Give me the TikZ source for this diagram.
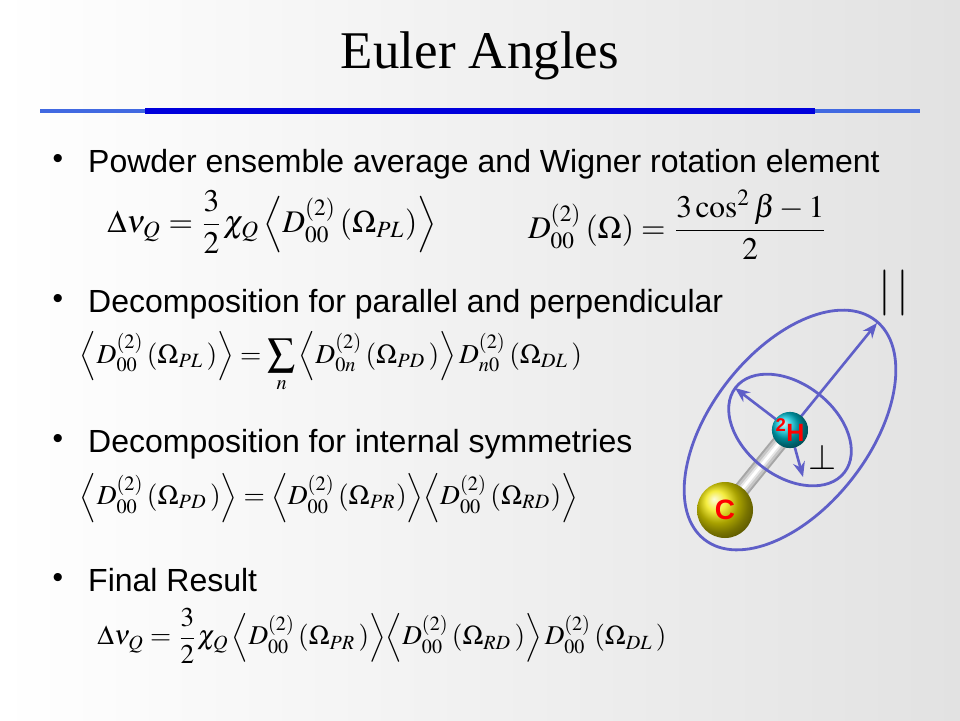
\documentclass[tikz,border=0pt]{standalone}
\usepackage{mathptmx}
\usepackage[no-math]{fontspec}
\setmainfont{Liberation Sans}
\newfontfamily\titlefont{Liberation Serif}
\usepackage{graphicx}
\usetikzlibrary{arrows.meta,shadings}
\definecolor{ellc}{RGB}{95,95,200}
\definecolor{lineblue}{RGB}{65,105,225}
\definecolor{darkblue}{RGB}{0,0,220}
\definecolor{bggray}{RGB}{226,226,226}
\definecolor{hcol}{RGB}{0,195,215}
\definecolor{ccol}{RGB}{240,230,0}
\tikzset{
  bullettext/.style={anchor=base west, inner sep=0pt, font=\fontsize{32}{38}\selectfont},
  bulletdot/.style={anchor=center, inner sep=0pt, font=\fontsize{30}{36}\selectfont},
  eqn/.style={inner sep=0pt, anchor=center},
  ell/.style={draw=ellc, line width=2.8pt},
  arr/.style={draw=ellc, line width=2.6pt, -{Stealth[length=15pt,width=12pt]}},
  atomlabel/.style={text=red, font=\bfseries\fontsize{25}{27}\selectfont},
}
\begin{document}
\begin{tikzpicture}[x=1pt,y=-1pt]
\useasboundingbox (0,0) rectangle (960,720);
\shade[left color=white, right color=bggray] (0,0) rectangle (960,720);

% title
\node[anchor=base, inner sep=0pt, font=\titlefont\fontsize{53}{60}\selectfont] (title) at (480,68) {Euler Angles};
\draw[lineblue, line width=4pt] (40,111) -- (920,111);
\draw[darkblue, line width=6pt] (145,111) -- (815,111);

% bullets
\node[bulletdot] (d1) at (58,161) {•};
\node[bullettext] (t1) at (88,172) {Powder ensemble average and Wigner rotation element};
\node[bulletdot] (d2) at (58,301) {•};
\node[bullettext] (t2) at (88,312) {Decomposition for parallel and perpendicular};
\node[bulletdot] (d3) at (58,441) {•};
\node[bullettext] (t3) at (88,452) {Decomposition for internal symmetries};
\node[bulletdot] (d4) at (58,580) {•};
\node[bullettext] (t4) at (88,591) {Final Result};

% equations
\node[eqn] (e1) at (272,222) {\resizebox{329pt}{!}{$\displaystyle \Delta\nu_{Q}=\frac{3}{2}\chi_{Q}\left\langle D^{(2)}_{00}\left(\Omega_{PL}\right)\right\rangle$}};
\node[eqn] (e2) at (678,225) {\resizebox{300pt}{!}{$\displaystyle D^{(2)}_{00}\left(\Omega\right)=\frac{3\cos^{2}\beta-1}{2}$}};
\node[eqn] (e3) at (331,362) {\resizebox{502pt}{!}{$\displaystyle \left\langle D^{(2)}_{00}\left(\Omega_{PL}\,\right)\right\rangle=\sum_{n}\left\langle D^{(2)}_{0n}\left(\Omega_{PD}\,\right)\right\rangle D^{(2)}_{n0}\left(\Omega_{DL}\,\right)$}};
\node[eqn] (e4) at (329,498) {\resizebox{498pt}{!}{$\displaystyle \left\langle D^{(2)}_{00}\left(\Omega_{PD}\,\right)\right\rangle=\left\langle D^{(2)}_{00}\left(\Omega_{PR}\right)\right\rangle\!\left\langle D^{(2)}_{00}\left(\Omega_{RD}\right)\right\rangle$}};
\node[eqn] (e5) at (382,636) {\resizebox{569pt}{!}{$\displaystyle \Delta\nu_{Q}=\frac{3}{2}\chi_{Q}\left\langle D^{(2)}_{00}\left(\Omega_{PR}\,\right)\right\rangle\!\left\langle D^{(2)}_{00}\left(\Omega_{RD}\,\right)\right\rangle D^{(2)}_{00}\left(\Omega_{DL}\,\right)$}};

% molecule
\coordinate (Hc) at (790,430);
\coordinate (Cc) at (725,510);
\coordinate (par) at (877,323);
\coordinate (perp) at (735,388);
\coordinate (down) at (803,477);
\draw[line width=16pt, gray!70] (Cc) -- (Hc);
\draw[line width=12pt, gray!45] (Cc) -- (Hc);
\draw[line width=7pt, gray!20] (Cc) -- (Hc);
\draw[line width=3pt, white] (Cc) -- (Hc);
\node[circle, minimum size=56pt, inner sep=0pt, shading=ball, ball color=ccol, atomlabel, font=\bfseries\fontsize{28}{30}\selectfont] (C) at (Cc) {C};
\draw[ell, rotate around={52:(Hc)}] (Hc) ellipse [x radius=139pt, y radius=79pt];
\draw[ell, rotate around={142:(Hc)}] (Hc) ellipse [x radius=69pt, y radius=46pt];
\draw[arr] (Hc) -- (par);
\draw[arr] (Hc) -- (perp);
\draw[arr] (Hc) -- (down);
\node[circle, minimum size=36pt, inner sep=0pt, shading=ball, ball color=hcol, atomlabel] (H) at (Hc) {\textsuperscript{2}H};
\node[inner sep=0pt, font=\fontsize{46}{50}\selectfont] (parlab) at (894,293) {$\vert\hspace{6pt}\vert$};
\node[inner sep=0pt, font=\fontsize{36}{40}\selectfont] (perplab) at (822,457) {$\perp$};
\end{tikzpicture}
\end{document}
